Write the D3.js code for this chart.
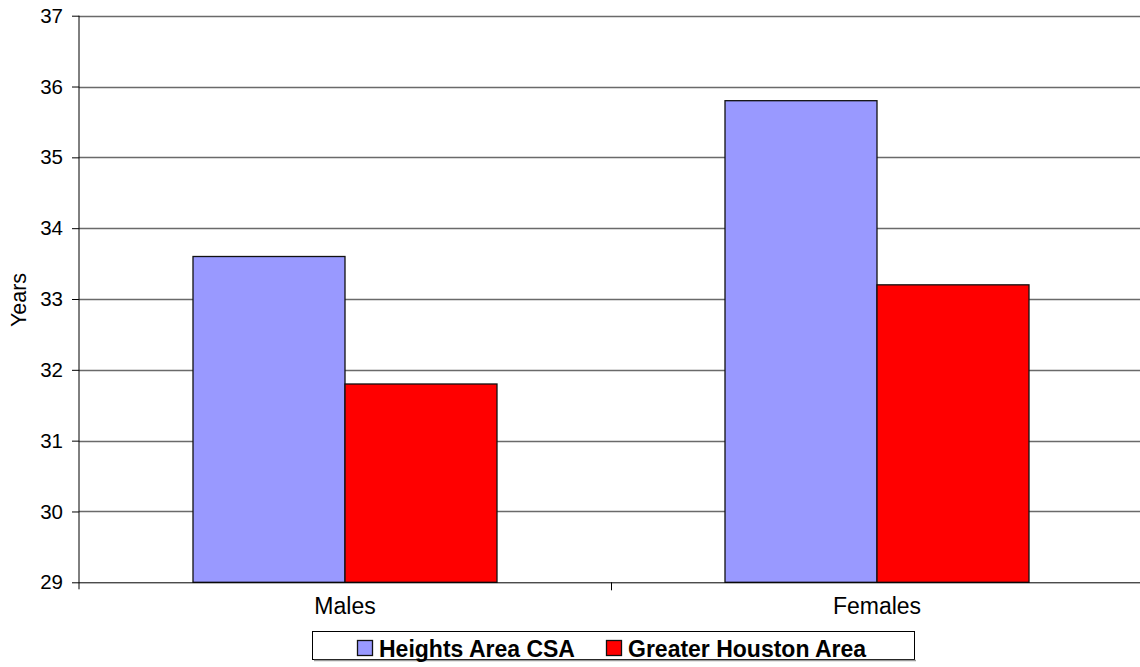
<!DOCTYPE html>
<html>
<head>
<meta charset="utf-8">
<script src="https://cdn.jsdelivr.net/npm/d3@7"></script>
<style>
  html, body { margin: 0; padding: 0; background: #fff; }
  svg { display: block; font-family: "Liberation Sans", Arial, sans-serif; }
</style>
</head>
<body>
<svg id="chart" width="1140" height="667"></svg>
<script>
const categories = ["Males", "Females"];
const seriesNames = ["Heights Area CSA", "Greater Houston Area"];
const heightsValues = [33.6, 35.8];
const houstonValues = [31.8, 33.2];
const yTicks = [29, 30, 31, 32, 33, 34, 35, 36, 37];
const seriesColors = ["#9999FF", "#FF0000"];

const svg = d3.select("#chart");
const plotLeft = 79, plotRight = 1143, plotTop = 15.7, plotBottom = 582.3;

const y = d3.scaleLinear().domain([29, 37]).range([plotBottom, plotTop]);
const x0 = d3.scaleBand().domain(categories).range([plotLeft, plotRight]).padding(0);
const x1 = d3.scaleBand().domain(seriesNames).range([0, x0.bandwidth()]).paddingInner(0).paddingOuter(0.75);
const color = d3.scaleOrdinal().domain(seriesNames).range(seriesColors);

const data = categories.map((c, i) => ({
  cat: c,
  vals: [
    { s: seriesNames[0], v: heightsValues[i] },
    { s: seriesNames[1], v: houstonValues[i] }
  ]
}));

// gridlines
svg.append("g")
  .selectAll("line")
  .data(yTicks.filter(t => t !== 29))
  .join("line")
  .attr("x1", plotLeft).attr("x2", 1140)
  .attr("y1", d => Math.round(y(d)) + 0.5).attr("y2", d => Math.round(y(d)) + 0.5)
  .attr("stroke", "#6a6a6a").attr("stroke-width", 1.4);

// bars
const groups = svg.append("g").selectAll("g")
  .data(data).join("g")
  .attr("transform", d => `translate(${x0(d.cat)},0)`);
groups.selectAll("rect")
  .data(d => d.vals).join("rect")
  .attr("x", d => x1(d.s))
  .attr("width", x1.bandwidth())
  .attr("y", d => y(d.v))
  .attr("height", d => y(29) - y(d.v))
  .attr("fill", d => color(d.s))
  .attr("stroke", "#111")
  .attr("stroke-width", 1.3);

// y axis
const yAxis = d3.axisLeft(y).tickValues(yTicks).tickSize(7).tickPadding(9).tickFormat(d3.format("d"));
const gy = svg.append("g").attr("transform", `translate(${plotLeft},0)`).call(yAxis);
gy.select(".domain").attr("stroke", "#000").attr("d", `M0,${plotTop}V${plotBottom + 7}`);
gy.selectAll(".tick line").attr("stroke", "#000");
gy.selectAll(".tick text").attr("font-size", 20.5).attr("fill", "#000")
  .attr("font-family", "Liberation Sans, Arial, sans-serif");

// x axis
const xAxis = d3.axisBottom(x0).tickSize(0).tickPadding(15);
const gx = svg.append("g").attr("transform", `translate(0,${plotBottom})`).call(xAxis);
gx.select(".domain").attr("stroke", "#000").attr("d", `M${plotLeft},0.5H1140`);
gx.selectAll(".tick text").attr("font-size", 23).attr("fill", "#000")
  .attr("font-family", "Liberation Sans, Arial, sans-serif");
// category separator ticks
svg.append("g").selectAll("line")
  .data(categories.slice(1))
  .join("line")
  .attr("x1", d => Math.round(x0(d)) + 0.5).attr("x2", d => Math.round(x0(d)) + 0.5)
  .attr("y1", plotBottom).attr("y2", plotBottom + 8)
  .attr("stroke", "#000");

// y label
svg.append("text")
  .attr("transform", `translate(26,300) rotate(-90)`)
  .attr("text-anchor", "middle")
  .attr("font-size", 21.5)
  .attr("fill", "#000")
  .text("Years");

// legend
const lg = svg.append("g");
lg.append("rect").attr("x", 312.5).attr("y", 631.5).attr("width", 602).attr("height", 28)
  .attr("fill", "#fff").attr("stroke", "#000").attr("stroke-width", 1);
lg.append("line").attr("x1", 314).attr("x2", 916).attr("y1", 660.5).attr("y2", 660.5)
  .attr("stroke", "#999").attr("stroke-width", 1.5);
const legendX = [357, 606];
const items = lg.selectAll("g.item").data(seriesNames).join("g")
  .attr("class", "item")
  .attr("transform", (d, i) => `translate(${legendX[i]},640)`);
items.append("rect").attr("x", 0.5).attr("y", 0.5).attr("width", 15).attr("height", 15)
  .attr("fill", d => color(d)).attr("stroke", "#111").attr("stroke-width", 1.3);
items.append("text").attr("x", 22).attr("y", 16.5)
  .attr("font-size", 23).attr("font-weight", "bold").attr("fill", "#000")
  .text(d => d);
</script>
</body>
</html>
